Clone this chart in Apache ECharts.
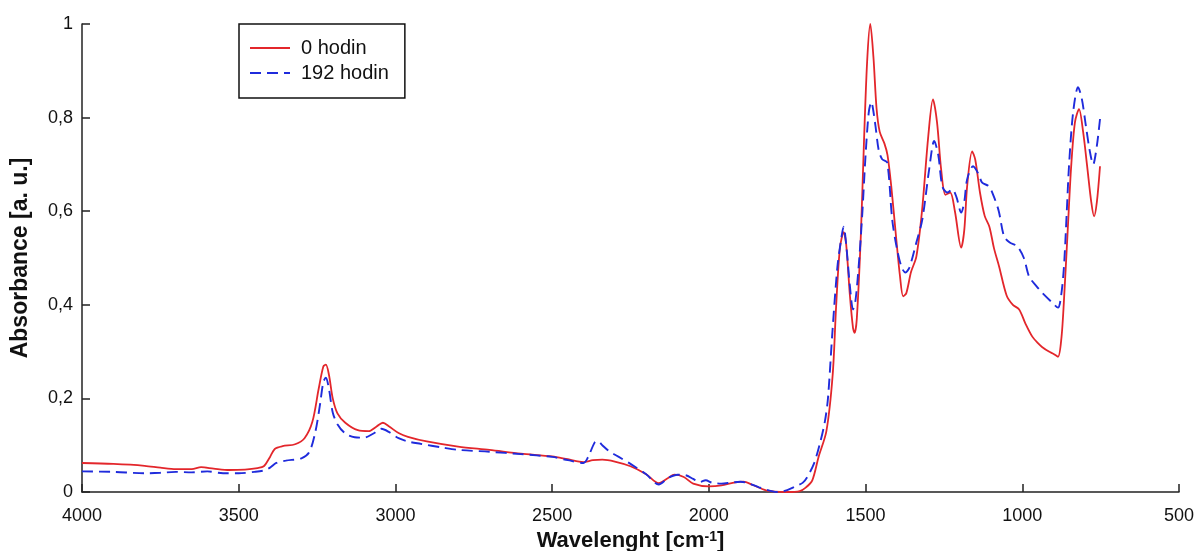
<!DOCTYPE html>
<html>
<head>
<meta charset="utf-8">
<script src="https://cdn.jsdelivr.net/npm/echarts@6/dist/echarts.min.js"></script>
<style>
html,body{margin:0;padding:0;background:#fff;}
#chart{width:1199px;height:551px;}
</style>
</head>
<body>
<div id="chart"></div>
<script>
// Series 1: 0 hodin (wavenumber, absorbance)
const wn0 = [4000,3900,3800,3750,3700,3650,3620,3580,3530,3480,3440,3420,3400,3385,3360,3320,3290,3265,3245,3230,3222,3212,3200,3185,3160,3120,3085,3060,3040,3020,2990,2960,2900,2800,2700,2600,2500,2450,2400,2370,2340,2300,2250,2200,2160,2130,2110,2080,2050,2000,1960,1920,1890,1860,1820,1790,1750,1710,1690,1670,1650,1625,1605,1594,1582,1570,1562,1550,1540,1535,1528,1515,1505,1495,1485,1475,1465,1455,1440,1430,1418,1402,1390,1380,1370,1355,1338,1320,1300,1285,1272,1259,1245,1230,1215,1195,1185,1176,1160,1150,1135,1120,1105,1090,1074,1050,1030,1010,990,968,950,937,915,900,886,875,867,855,844,832,819,806,793,780,771,762,752];
const abs0 = [0.062,0.060,0.056,0.052,0.049,0.049,0.053,0.050,0.047,0.048,0.051,0.055,0.075,0.092,0.098,0.102,0.115,0.150,0.220,0.268,0.272,0.250,0.200,0.168,0.148,0.132,0.130,0.140,0.148,0.140,0.126,0.118,0.108,0.097,0.090,0.082,0.076,0.070,0.064,0.068,0.069,0.065,0.055,0.038,0.019,0.030,0.037,0.032,0.018,0.012,0.014,0.020,0.022,0.015,0.004,0.001,0.000,0.002,0.010,0.025,0.075,0.130,0.250,0.396,0.520,0.555,0.530,0.420,0.350,0.340,0.370,0.550,0.750,0.920,1.000,0.930,0.820,0.770,0.745,0.720,0.653,0.540,0.460,0.418,0.425,0.470,0.503,0.600,0.760,0.839,0.790,0.690,0.635,0.640,0.600,0.522,0.560,0.653,0.728,0.710,0.640,0.590,0.567,0.520,0.482,0.420,0.400,0.390,0.360,0.332,0.318,0.310,0.300,0.295,0.289,0.330,0.410,0.560,0.696,0.790,0.818,0.770,0.696,0.620,0.589,0.620,0.696];

// Series 2: 192 hodin
const wn192 = [4000,3900,3800,3750,3700,3650,3600,3550,3500,3450,3420,3400,3380,3350,3300,3275,3255,3240,3230,3222,3212,3200,3185,3160,3130,3100,3070,3045,3020,2990,2960,2920,2850,2800,2700,2600,2500,2450,2400,2385,2365,2355,2340,2320,2290,2250,2200,2160,2130,2100,2075,2050,2030,2010,1990,1960,1930,1900,1880,1840,1800,1780,1750,1720,1700,1686,1665,1647,1630,1620,1606,1590,1578,1570,1562,1550,1540,1532,1520,1510,1500,1490,1482,1470,1458,1447,1431,1415,1400,1385,1373,1360,1338,1319,1297,1281,1268,1255,1239,1223,1210,1195,1185,1176,1157,1140,1128,1106,1090,1075,1058,1040,1016,995,978,955,937,905,886,876,867,858,851,838,822,810,797,785,774,762,752];
const abs192 = [0.044,0.043,0.040,0.041,0.043,0.042,0.044,0.040,0.040,0.043,0.046,0.052,0.062,0.067,0.072,0.085,0.130,0.190,0.235,0.244,0.220,0.170,0.145,0.125,0.117,0.116,0.125,0.135,0.128,0.115,0.108,0.103,0.095,0.090,0.086,0.081,0.075,0.068,0.062,0.075,0.105,0.109,0.100,0.088,0.076,0.060,0.038,0.016,0.030,0.037,0.036,0.028,0.021,0.025,0.020,0.018,0.020,0.022,0.020,0.010,0.002,0.000,0.004,0.013,0.020,0.032,0.060,0.100,0.150,0.200,0.340,0.480,0.540,0.567,0.530,0.440,0.390,0.410,0.500,0.600,0.720,0.810,0.833,0.790,0.730,0.711,0.704,0.582,0.520,0.480,0.469,0.480,0.533,0.582,0.690,0.750,0.720,0.653,0.640,0.647,0.630,0.597,0.620,0.668,0.696,0.680,0.661,0.653,0.630,0.600,0.546,0.533,0.525,0.500,0.460,0.440,0.426,0.405,0.394,0.420,0.482,0.600,0.696,0.810,0.865,0.840,0.782,0.730,0.700,0.740,0.797];

const seriesNames = ['0 hodin', '192 hodin'];
const xTicks = {min: 500, max: 4000, step: 500};
const yTicks = {min: 0, max: 1, step: 0.2};

function pairs(xs, ys){ return xs.map((x,i)=>[x, ys[i]]); }

const font = 'Liberation Sans, Arial, sans-serif';
const chart = echarts.init(document.getElementById('chart'), null, {renderer:'canvas'});
chart.setOption({
  animation: false,
  backgroundColor: '#fff',
  grid: {left: 82, right: 20, top: 24, bottom: 59, containLabel: false, outerBoundsMode: 'none'},
  legend: {
    orient: 'vertical', left: 239, top: 24,
    padding: [14, 16, 15, 10],
    borderColor: '#111', borderWidth: 1.5,
    itemWidth: 40, itemHeight: 14, itemGap: 5,
    itemStyle: {opacity: 0},
    textStyle: {fontFamily: font, fontSize: 20, color: '#111', padding: [0,0,0,6]},
    data: seriesNames
  },
  xAxis: {
    type: 'value', inverse: true,
    min: xTicks.min, max: xTicks.max, interval: xTicks.step,
    name: 'Wavelenght [cm{sup|-1}]',
    nameLocation: 'middle', nameGap: 34,
    nameTextStyle: {fontFamily: font, fontSize: 22, fontWeight: 'bold', color: '#111',
      rich: {sup: {fontFamily: font, fontSize: 14, fontWeight: 'bold', color: '#111', verticalAlign: 'top', padding:[0,0,9,0]}}},
    axisLine: {show: true, lineStyle: {color: '#222', width: 1.5}},
    axisTick: {show: true, inside: true, length: 8, lineStyle: {color: '#222', width: 1.5}},
    axisLabel: {fontFamily: font, fontSize: 18, color: '#111', margin: 15, formatter: v => String(v)},
    splitLine: {show: false}
  },
  yAxis: {
    type: 'value', min: yTicks.min, max: yTicks.max, interval: yTicks.step,
    name: 'Absorbance [a. u.]',
    nameLocation: 'middle', nameGap: 50,
    nameTextStyle: {fontFamily: font, fontSize: 23, fontWeight: 'bold', color: '#111'},
    axisLine: {show: true, lineStyle: {color: '#222', width: 1.5}},
    axisTick: {show: true, inside: true, length: 8, lineStyle: {color: '#222', width: 1.5}},
    axisLabel: {fontFamily: font, fontSize: 18, color: '#111', margin: 9,
      formatter: v => (v === 0 || v === 1) ? String(v) : v.toFixed(1).replace('.', ',')},
    splitLine: {show: false}
  },
  series: [
    {name: seriesNames[0], type: 'line', data: pairs(wn0, abs0), symbol: 'none', smooth: 0.3,
     lineStyle: {color: '#e3262b', width: 1.8}, itemStyle: {color: '#e3262b'}, z: 2},
    {name: seriesNames[1], type: 'line', data: pairs(wn192, abs192), symbol: 'none', smooth: 0.3,
     lineStyle: {color: '#1f2bdc', width: 1.9, type: [11, 6]}, itemStyle: {color: '#1f2bdc'}, z: 3}
  ]
});
</script>
</body>
</html>
